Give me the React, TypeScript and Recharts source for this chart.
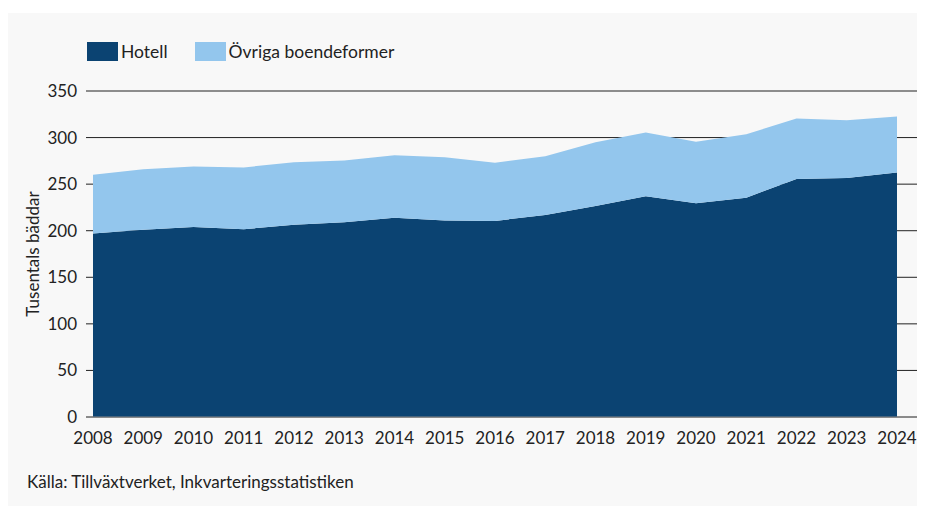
import React from "react";
import {
  AreaChart,
  Area,
  XAxis,
  YAxis,
  CartesianGrid,
} from "recharts";

const years = [
  "2008", "2009", "2010", "2011", "2012", "2013", "2014", "2015", "2016",
  "2017", "2018", "2019", "2020", "2021", "2022", "2023", "2024",
];
const hotell = [197, 201, 204, 201.5, 206.5, 209, 214, 211, 210.5, 217, 226.5, 237, 229.5, 235.5, 255.5, 256.5, 262.5];
const ovriga = [63, 65, 65, 66.5, 67, 66.5, 67, 68, 62.5, 63, 68.5, 68.5, 66, 68, 65, 62, 60];
const yTicks = [0, 50, 100, 150, 200, 250, 300, 350];

const data = years.map((year, i) => ({
  year,
  hotell: hotell[i],
  ovriga: ovriga[i],
}));

const DARK = "#0b4372";
const LIGHT = "#93c6ed";
const FONT = "Lato, 'Open Sans', sans-serif";

const legendItems = [
  { label: "Hotell", color: DARK },
  { label: "Övriga boendeformer", color: LIGHT },
];

export default function App() {
  return (
    <div style={{ paddingTop: 5 }}>
      <div style={{ position: "relative", width: 917, height: 493, background: "#f8f8f8" }}>
        {/* legend kept outside the chart so it doesn't push the plot down */}
        <div
          style={{
            position: "absolute",
            left: 79,
            top: 28,
            display: "flex",
            alignItems: "center",
            fontFamily: FONT,
            fontSize: 17.5,
            color: "#222",
          }}
        >
          {legendItems.map((it) => (
            <div key={it.label} style={{ display: "flex", alignItems: "center", marginRight: 27 }}>
              <span style={{ display: "inline-block", width: 31, height: 19, background: it.color, marginRight: 3 }} />
              <span>{it.label}</span>
            </div>
          ))}
        </div>
        <AreaChart
          width={917}
          height={440}
          data={data}
          margin={{ top: 78, right: 8, bottom: 6, left: 0 }}
        >
          <CartesianGrid vertical={false} stroke="#222" strokeWidth={1} />
          <XAxis
            dataKey="year"
            padding={{ left: 7, right: 20 }}
            tickLine={false}
            axisLine={{ stroke: "#888" }}
            tickMargin={9}
            interval={0}
            tick={{ fill: "#222", fontSize: 17, fontFamily: FONT }}
            height={30}
          />
          <YAxis
            width={78}
            domain={[0, 350]}
            ticks={yTicks}
            tickLine={false}
            axisLine={false}
            tickMargin={3}
            tick={{ fill: "#222", fontSize: 17, fontFamily: FONT }}
            label={{
              value: "Tusentals bäddar",
              angle: -90,
              position: "insideLeft",
              offset: 25,
              style: { textAnchor: "middle", fill: "#222", fontSize: 17, fontFamily: FONT },
            }}
          />
          <Area
            type="linear"
            dataKey="hotell"
            stackId="1"
            stroke="none"
            fill={DARK}
            fillOpacity={1}
            isAnimationActive={false}
          />
          <Area
            type="linear"
            dataKey="ovriga"
            stackId="1"
            stroke="none"
            fill={LIGHT}
            fillOpacity={1}
            isAnimationActive={false}
          />
        </AreaChart>
        <div
          style={{
            position: "absolute",
            left: 19,
            top: 458,
            fontFamily: FONT,
            fontSize: 17,
            color: "#222",
          }}
        >
          Källa: Tillväxtverket, Inkvarteringsstatistiken
        </div>
      </div>
    </div>
  );
}
